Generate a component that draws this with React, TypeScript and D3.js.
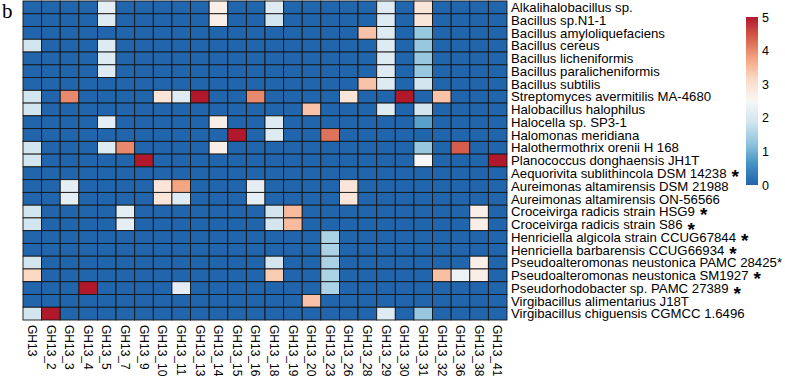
import React from "react";
import * as d3 from "d3";

const columns = ["GH13","GH13_2","GH13_3","GH13_4","GH13_5","GH13_7","GH13_9","GH13_10","GH13_11","GH13_13","GH13_14","GH13_15","GH13_16","GH13_18","GH13_19","GH13_20","GH13_23","GH13_26","GH13_28","GH13_29","GH13_30","GH13_31","GH13_32","GH13_36","GH13_38","GH13_41"];

const rowLabels = [
  "Alkalihalobacillus sp.",
  "Bacillus sp.N1-1",
  "Bacillus amyloliquefaciens",
  "Bacillus cereus",
  "Bacillus licheniformis",
  "Bacillus paralicheniformis",
  "Bacillus subtilis",
  "Streptomyces avermitilis MA-4680",
  "Halobacillus halophilus",
  "Halocella sp. SP3-1",
  "Halomonas meridiana",
  "Halothermothrix orenii H 168",
  "Planococcus donghaensis JH1T",
  "Aequorivita sublithincola DSM 14238",
  "Aureimonas altamirensis DSM 21988",
  "Aureimonas altamirensis ON-56566",
  "Croceivirga radicis strain HSG9",
  "Croceivirga radicis strain S86",
  "Henriciella algicola strain CCUG67844",
  "Henriciella barbarensis CCUG66934",
  "Pseudoalteromonas neustonica PAMC 28425",
  "Pseudoalteromonas neustonica SM1927",
  "Pseudorhodobacter sp. PAMC 27389",
  "Virgibacillus alimentarius J18T",
  "Virgibacillus chiguensis CGMCC 1.6496",
];

// 0 = no mark, 1 = large asterisk, 2 = large asterisk (set lower), 3 = small superscript asterisk
const rowMarks = [0,0,0,0,0,0,0,0,0,0,0,0,0,1,0,0,1,2,1,1,3,1,2,0,0];

// values per row (26 columns each)
const values: number[][] = [
  [0,0,0,0,2.2,0,0,0,0,0,2.7,0,0,2.1,0,0,0,0,0,2.1,0,2.9,0,0,0,0],
  [0,0,0,0,2.1,0,0,0,0,0,2.7,0,0,1.9,0,0,0,0,0,2.1,0,2.9,0,0,0,0],
  [0,0,0,0,0,0,0,0,0,0,0,0,0,0,0,0,0,0,3.4,2.1,0,1.3,0,0,0,0],
  [1.9,0,0,0,2.1,0,0,0,0,0,0,0,0,0,0,0,0,0,0,2.1,0,1.3,0,0,0,0],
  [0,0,0,0,2.1,0,0,0,0,0,0,0,0,0,0,0,0,0,0,2.1,0,1.3,0,0,0,0],
  [0,0,0,0,2.1,0,0,0,0,0,0,0,0,0,0,0,0,0,0,2.1,0,1.3,0,0,0,0],
  [0,0,0,0,0,0,0,0,0,0,0,0,0,0,0,0,0,0,3.4,2.1,0,1.9,0,0,0,0],
  [1.9,0,4.0,0,0,0,0,2.9,2.1,5,0,0,4.0,0,0,0,0,2.9,0,0,5,0,3.4,0,0,0],
  [1.9,0,0,0,0,0,0,0,0,0,0,0,0,0,0,3.4,0,0,0,2.1,0,1.9,0,0,0,0],
  [0,0,0,0,2.2,0,0,0,0,0,2.7,0,0,2.1,0,0,0,0,0,0,0,0.8,0,0,0,0],
  [0,0,0,0,0,0,0,0,0,0,0,5,0,2.1,0,0,4.2,0,0,0,0,0,0,0,0,0],
  [1.9,0,0,0,2.1,4.0,0,0,0,0,2.7,0,0,0,0,0,0,0,0,0,0,1.3,0,4.4,0,0],
  [1.9,0,0,0,0,0,5,0,0,0,0,0,0,0,0,0,0,0,0,0,0,2.5,0,0,0,5],
  [0,0,0,0,0,0,0,0,0,0,0,0,0,0,0,0,0,0,0,0,0,0,0,0,0,0],
  [0,0,2.2,0,0,0,0,2.9,3.75,0,0,0,2.2,0,0,0,0,2.9,0,0,0,0,0,0,0,0],
  [0,0,2.2,0,0,0,0,2.9,2.1,0,0,0,2.2,0,0,0,0,2.9,0,0,0,0,0,0,0,0],
  [1.9,0,0,0,0,2.2,0,0,0,0,0,0,0,1.9,3.5,0,0,0,0,0,0,0,0,0,2.7,0],
  [1.9,0,0,0,0,2.2,0,0,0,0,0,0,0,1.9,3.5,0,0,0,0,0,0,0,0,0,2.7,0],
  [0,0,0,0,0,0,0,0,0,0,0,0,0,0,0,0,1.5,0,0,0,0,0,0,0,0,0],
  [0,0,0,0,0,0,0,0,0,0,0,0,0,0,0,0,1.5,0,0,0,0,0,0,0,0,0],
  [1.9,0,0,0,0,0,0,0,0,0,0,0,0,1.9,0,0,1.5,0,0,0,0,0,0,0,2.7,0],
  [3.15,0,0,0,0,0,0,0,0,0,0,0,0,3.3,0,0,1.5,0,0,0,0,0,3.45,2.3,2.7,0],
  [0,0,0,5,0,0,0,0,2.2,0,0,0,0,0,0,0,1.5,0,0,0,0,0,0,0,0,0],
  [0,0,0,0,0,0,0,0,0,0,0,0,0,0,0,3.4,0,0,0,0,0,0,0,0,0,0],
  [1.9,5,0,0,0,0,0,0,0,0,0,0,0,0,0,0,0,0,0,2.1,0,1.3,0,0,0,0],
];

const legendTicks = [0, 1, 2, 3, 4, 5];
const palette = ["#2166AC","#4393C3","#92C5DE","#D1E5F0","#F7F7F7","#FDDBC7","#F4A582","#D6604D","#B2182B"];

export default function App() {
  const x = d3.scaleBand<string>().domain(columns).range([23, 507]);
  const y = d3.scaleBand<string>().domain(rowLabels).range([1, 320]);
  const color = d3
    .scaleLinear<string>()
    .domain(palette.map((_, i) => (i * 5) / (palette.length - 1)))
    .range(palette)
    .interpolate(d3.interpolateRgb);
  const ly = d3.scaleLinear().domain([0, 5]).range([185, 17]);
  const font = "'Liberation Sans', Arial, sans-serif";

  return (
    <svg width={785} height={382} style={{ position: "absolute", left: 0, top: 0, background: "#fff" }}>
      <defs>
        <linearGradient id="lg" x1="0" y1="1" x2="0" y2="0">
          {palette.map((c, i) => (
            <stop key={i} offset={`${(i / (palette.length - 1)) * 100}%`} stopColor={c} />
          ))}
        </linearGradient>
      </defs>
      <text x={2} y={18} fontFamily="'Liberation Serif', serif" fontSize={21}>b</text>
      <g>
        {values.map((row, ri) =>
          row.map((v, ci) => (
            <rect
              key={`${ri}-${ci}`}
              x={x(columns[ci])}
              y={y(rowLabels[ri])}
              width={x.bandwidth()}
              height={y.bandwidth()}
              fill={color(v)}
              stroke="#151515"
              strokeWidth={0.9}
            />
          ))
        )}
      </g>
      <g fontFamily={font} fontSize={13.2} fill="#000">
        {rowLabels.map((lab, i) => {
          const cy = (y(lab) as number) + y.bandwidth() / 2;
          const m = rowMarks[i];
          return (
            <text key={lab} x={511} y={cy} dy="0.36em">
              {lab}
              {m === 1 && (
                <tspan fontSize={19} fontWeight="bold" dx={5} dy={5}>*</tspan>
              )}
              {m === 2 && (
                <tspan fontSize={19} fontWeight="bold" dx={5} dy={7}>*</tspan>
              )}
              {m === 3 && <tspan>*</tspan>}
            </text>
          );
        })}
      </g>
      <g fontFamily={font} fontSize={12} fill="#000">
        {columns.map((c) => {
          const cx = (x(c) as number) + x.bandwidth() / 2;
          return (
            <text key={c} transform={`translate(${cx},325) rotate(90)`} dy="0.36em">
              {c}
            </text>
          );
        })}
      </g>
      <rect x={746} y={17} width={12} height={168} fill="url(#lg)" />
      <g fontFamily={font} fontSize={12.5} fill="#000">
        {legendTicks.map((t) => (
          <text key={t} x={762} y={ly(t)} dy="0.36em">{t}</text>
        ))}
      </g>
    </svg>
  );
}
